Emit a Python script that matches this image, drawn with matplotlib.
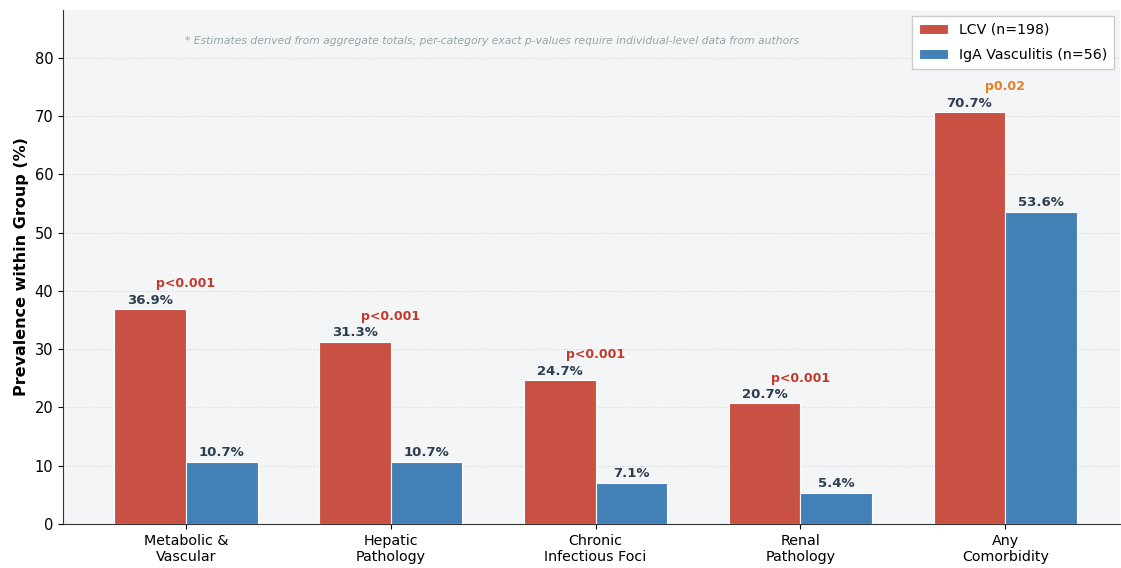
import matplotlib
matplotlib.use("Agg")
import matplotlib.pyplot as plt
import numpy as np

categories = ["Metabolic &\nVascular", "Hepatic\nPathology", "Chronic\nInfectious Foci", "Renal\nPathology", "Any\nComorbidity"]
lcv = [36.9, 31.3, 24.7, 20.7, 70.7]
iga = [10.7, 10.7, 7.1, 5.4, 53.6]
pvals = ["p<0.001", "p<0.001", "p<0.001", "p<0.001", "p0.02"]
pcolors = ["#c0392b", "#c0392b", "#c0392b", "#c0392b", "#e67e22"]
series_labels = ["LCV (n=198)", "IgA Vasculitis (n=56)"]
note = "* Estimates derived from aggregate totals; per-category exact p-values require individual-level data from authors"

fig = plt.figure(figsize=(11.21, 5.68), dpi=100)
ax = fig.add_axes([63/1121, 1-524/568, (1120-63)/1121, (524-10)/568])
ax.set_facecolor("#f4f5f7")

x = np.arange(len(categories))
w = 0.35
red = "#c85143"
blue = "#4380b6"
ax.bar(x - w/2, lcv, w, color=red, edgecolor="white", linewidth=0.8, label=series_labels[0], zorder=3)
ax.bar(x + w/2, iga, w, color=blue, edgecolor="white", linewidth=0.8, label=series_labels[1], zorder=3)

for xi, v in zip(x - w/2, lcv):
    ax.text(xi, v + 0.4, f"{v}%", ha="center", va="bottom", fontsize=9.5, fontweight="bold", color="#2c3e50")
for xi, v in zip(x + w/2, iga):
    ax.text(xi, v + 0.4, f"{v}%", ha="center", va="bottom", fontsize=9.5, fontweight="bold", color="#2c3e50")
for xi, v, p, c in zip(x, lcv, pvals, pcolors):
    ax.text(xi, v + 3.2, p, ha="center", va="bottom", fontsize=9, fontweight="bold", color=c)

ax.set_xlim(-0.6, 4.56)
ax.set_ylim(0, 88.2)
ax.set_yticks(np.arange(0, 81, 10))
ax.set_xticks(x)
ax.set_xticklabels(categories, fontsize=10.3)
ax.tick_params(axis="y", labelsize=10.5)
ax.set_ylabel("Prevalence within Group (%)", fontsize=11.5, fontweight="bold")
ax.yaxis.grid(True, linestyle=":", color="#cfd3d8", linewidth=0.8, zorder=0)
ax.set_axisbelow(True)
for s in ["top", "right"]:
    ax.spines[s].set_visible(False)
ax.spines["left"].set_color("#333333")
ax.spines["bottom"].set_color("#333333")

ax.text(0.115, 0.94, note, transform=ax.transAxes, fontsize=7.75, style="italic", color="#95a5a6", ha="left", va="center")

ax.legend(loc="upper right", fontsize=10.2, frameon=True, framealpha=1.0, edgecolor="#cccccc",
          fancybox=False, labelspacing=0.8, borderpad=0.5, borderaxespad=0.4, handlelength=2.0)

fig.savefig("out.png", dpi=100)
